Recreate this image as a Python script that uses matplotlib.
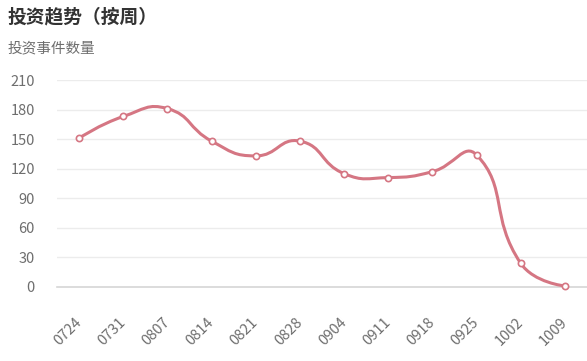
import numpy as np
import matplotlib
matplotlib.use("Agg")
import matplotlib.pyplot as plt
from matplotlib.path import Path
from matplotlib.patches import PathPatch

plt.rcParams['font.family'] = ['Noto Sans CJK SC', 'DejaVu Sans']

weeks = ['0724', '0731', '0807', '0814', '0821', '0828',
         '0904', '0911', '0918', '0925', '1002', '1009']
counts = [151, 173, 181, 148, 133, 148, 115, 111, 117, 134, 24, 1]
yticks = [0, 30, 60, 90, 120, 150, 180, 210]

line_color = '#d57683'
grid_color = '#ececec'
text_color = '#6e6e6e'

fig = plt.figure(figsize=(5.87, 3.61), dpi=100)
ax = fig.add_axes([57 / 587, 74 / 361, 530 / 587, 207 / 361])

x = np.arange(len(weeks))
ax.set_xlim(-0.5, len(weeks) - 0.5)
ax.set_ylim(0, 210)

# smooth curve like echarts (smooth=0.5), computed in pixel-like space
sx, sy = 530 / 12, 207 / 210
px = x * sx
py = np.array(counts) * sy
smooth = 0.5
cps = []
for i in range(len(px)):
    if i == 0 or i == len(px) - 1:
        cps.append(((px[i], py[i]), (px[i], py[i])))
        continue
    vx = px[i + 1] - px[i - 1]
    vy = py[i + 1] - py[i - 1]
    l0 = np.hypot(px[i] - px[i - 1], py[i] - py[i - 1])
    l1 = np.hypot(px[i + 1] - px[i], py[i + 1] - py[i])
    r = l1 / (l0 + l1)
    before = (px[i] - vx * smooth * (1 - r), py[i] - vy * smooth * (1 - r))
    after = (px[i] + vx * smooth * r, py[i] + vy * smooth * r)
    cps.append((before, after))

verts = [(x[0], counts[0])]
codes = [Path.MOVETO]
for i in range(1, len(px)):
    a = cps[i - 1][1]
    b = cps[i][0]
    verts += [(a[0] / sx, a[1] / sy), (b[0] / sx, b[1] / sy), (x[i], counts[i])]
    codes += [Path.CURVE4] * 3
ax.add_patch(PathPatch(Path(verts, codes), facecolor='none', edgecolor=line_color,
                       lw=2.2, clip_on=False, zorder=3))
ax.plot(x, counts, linestyle='none', marker='o', ms=4.5, mfc='white',
        mec=line_color, mew=1.2, clip_on=False, zorder=4)

ax.set_yticks(yticks)
ax.set_xticks(x)
ax.set_xticklabels(weeks, rotation=45, ha='right', va='center', rotation_mode='anchor')
ax.tick_params(axis='y', length=0, pad=16, labelsize=10.5, labelcolor=text_color)
ax.tick_params(axis='x', length=0, pad=24, labelsize=10.5, labelcolor=text_color)
ax.grid(axis='y', color=grid_color, lw=1)
ax.set_axisbelow(True)
for s in ['top', 'right', 'left']:
    ax.spines[s].set_visible(False)
ax.spines['bottom'].set_color('#d6d6d6')
ax.spines['bottom'].set_linewidth(1.2)

fig.text(8 / 587, 1 - 17 / 361, '投资趋势（按周）', fontsize=13.5, fontweight='bold',
         color='#333333', va='center')
fig.text(8 / 587, 1 - 48 / 361, '投资事件数量', fontsize=10.5, color=text_color, va='center')

fig.savefig('out.png', dpi=100)
